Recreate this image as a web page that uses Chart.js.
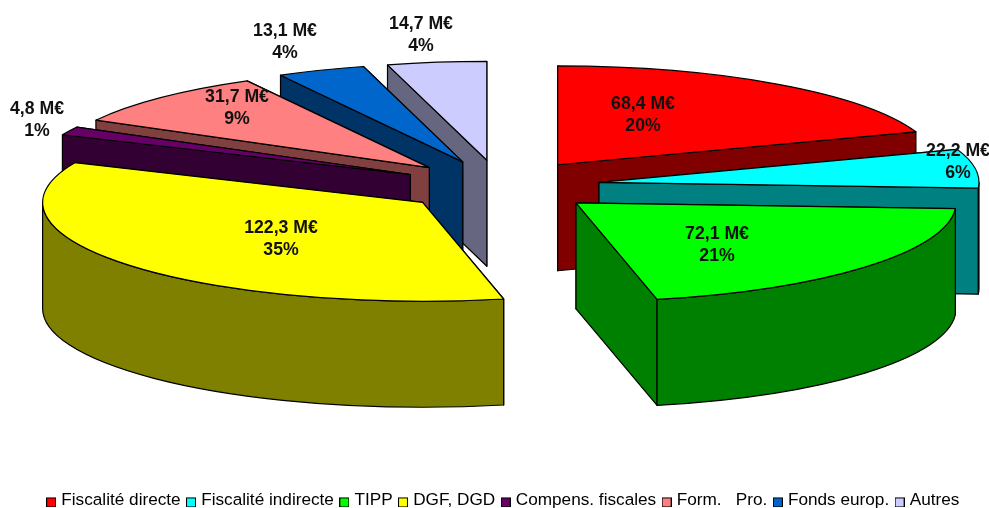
<!DOCTYPE html>
<html lang="fr">
<head>
<meta charset="utf-8">
<style>html,body{margin:0;padding:0;background:#fff}canvas{display:block}</style>
<script src="https://cdn.jsdelivr.net/npm/chart.js@4/dist/chart.umd.js"></script>
</head>
<body>
<canvas id="c" width="989" height="508"></canvas>
<script>
const categories = ["Fiscalité directe","Fiscalité indirecte","TIPP","DGF, DGD","Compens. fiscales","Form.   Pro.","Fonds europ.","Autres"];
const values = [68.4,22.2,72.1,122.3,4.8,31.7,13.1,14.7];
const topColors = ["#FF0000","#00FFFF","#00FF00","#FFFF00","#660066","#FF8080","#0066CC","#CCCCFF"];
const sideColors = ["#800000","#008080","#008000","#808000","#330033","#804040","#003366","#666680"];
const labelCenters = [[643,104],[958,151],[717,234],[281,228],[37,109],[237,97],[285,31],[421,24]];
const paintOrder = [7,6,5,4,3,0,1,2];
const view = {x:500, y:186, radius:380, tilt:0.26, drop:106, explode:100, lineGap:22, line:1.2};
const FONT = '"Liberation Sans", Arial, sans-serif';

function swatch(color){
  const cv = document.createElement('canvas');
  cv.width = 10; cv.height = 14;
  const g = cv.getContext('2d');
  g.fillStyle = color; g.fillRect(0,4,10,10);
  g.strokeStyle = '#000'; g.lineWidth = 1; g.strokeRect(0.5,4.5,9,9);
  return cv;
}

function shape(ctx, fill, build){
  ctx.beginPath(); build(); ctx.closePath();
  ctx.fillStyle = fill; ctx.fill();
  ctx.strokeStyle = '#000'; ctx.lineWidth = view.line; ctx.stroke();
}

const pie3d = {
  id:'pie3d',
  beforeDatasetDraw(){ return false; },
  afterDatasetsDraw(chart){
    const ctx = chart.ctx;
    const arcs = chart.getDatasetMeta(0).data;
    const total = values.reduce((a,b)=>a+b,0);
    ctx.save();
    ctx.lineJoin = 'round';
    paintOrder.forEach(i=>{
      const arc = arcs[i];
      const a0 = arc.startAngle, a1 = arc.endAngle, mid = (a0+a1)/2;
      const R = view.radius, ry = R*view.tilt, h = view.drop;
      const cx = view.x + view.explode*Math.cos(mid);
      const cy = view.y + view.explode*view.tilt*Math.sin(mid);
      const px = a => cx + R*Math.cos(a);
      const py = a => cy + ry*Math.sin(a);
      [a0,a1].sort((p,q)=>py(p)-py(q)).forEach(a=>shape(ctx, sideColors[i], ()=>{
        ctx.moveTo(cx,cy); ctx.lineTo(px(a),py(a));
        ctx.lineTo(px(a),py(a)+h); ctx.lineTo(cx,cy+h);
      }));
      const f0 = Math.max(a0,0), f1 = Math.min(a1,Math.PI);
      if (f1 > f0) shape(ctx, sideColors[i], ()=>{
        ctx.ellipse(cx,cy,R,ry,0,f0,f1);
        ctx.lineTo(px(f1),py(f1)+h);
        ctx.ellipse(cx,cy+h,R,ry,0,f1,f0,true);
      });
      ctx.save();
      ctx.translate(cx,cy); ctx.scale(1,view.tilt); ctx.translate(-arc.x,-arc.y);
      arc.draw(ctx);
      ctx.restore();
      ctx.beginPath();
      ctx.moveTo(cx,cy);
      ctx.ellipse(cx,cy,R,ry,0,a0,a1);
      ctx.closePath();
      ctx.strokeStyle='#000'; ctx.lineWidth=view.line; ctx.stroke();
    });
    ctx.fillStyle = '#111';
    ctx.font = 'bold 17.7px '+FONT;
    ctx.textAlign = 'center'; ctx.textBaseline = 'middle';
    values.forEach((v,i)=>{
      const [lx,ly] = labelCenters[i];
      ctx.fillText(v.toFixed(1).replace('.',',')+' M€', lx, ly);
      ctx.fillText(Math.round(v/total*100)+'%', lx, ly+view.lineGap);
    });
    ctx.restore();
  }
};

new Chart(document.getElementById('c'),{
  type:'pie',
  data:{labels:categories,datasets:[{data:values,backgroundColor:topColors,borderWidth:0,radius:view.radius}]},
  plugins:[pie3d],
  options:{
    responsive:false,
    animation:false,
    layout:{padding:{left:20,bottom:-11}},
    plugins:{
      tooltip:{enabled:false},
      legend:{
        position:'bottom',
        labels:{
          usePointStyle:true,
          pointStyleWidth:3,
          padding:8.9,
          color:'#111',
          font:{family:FONT,size:17.2},
          generateLabels(chart){
            return categories.map((t,i)=>({text:t,index:i,fillStyle:topColors[i],strokeStyle:'#000',lineWidth:1,pointStyle:swatch(topColors[i]),hidden:false}));
          }
        }
      }
    }
  }
});
</script>
</body>
</html>
